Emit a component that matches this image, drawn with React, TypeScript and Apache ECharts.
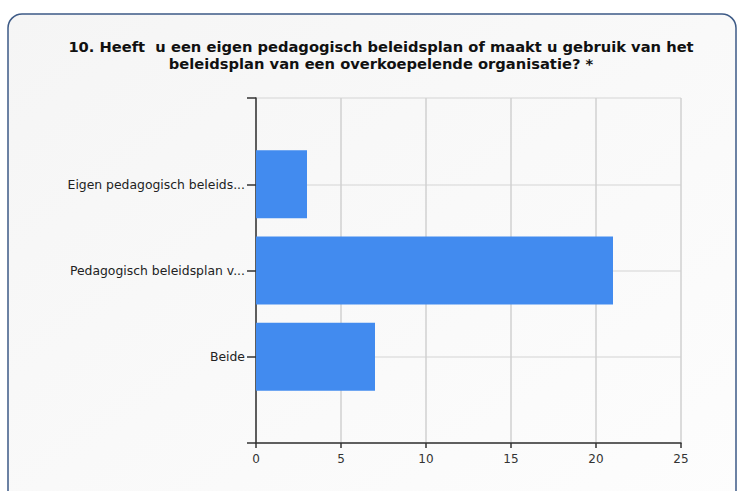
import React, { useEffect, useRef } from "react";
import * as echarts from "echarts";

const titleLines = [
  "10. Heeft  u een eigen pedagogisch beleidsplan of maakt u gebruik van het",
  "beleidsplan van een overkoepelende organisatie? *",
];
const categories = ["", "Eigen pedagogisch beleids...", "Pedagogisch beleidsplan v...", "Beide", ""];
const values: (number | null)[] = [null, 3, 21, 7, null];
const xTicks = { min: 0, max: 25, interval: 5 };

export default function App() {
  const ref = useRef<HTMLDivElement>(null);
  useEffect(() => {
    if (!ref.current) return;
    const chart = echarts.init(ref.current, null, { renderer: "svg" });
    const font = "Verdana, 'DejaVu Sans', sans-serif";
    chart.setOption({
      animation: false,
      backgroundColor: "#ffffff",
      graphic: [
        {
          type: "rect",
          z: -10,
          shape: { x: 8, y: 14, width: 728, height: 500, r: 14 },
          style: {
            fill: new echarts.graphic.LinearGradient(0, 0, 1, 1, [
              { offset: 0, color: "#f5f5f5" },
              { offset: 1, color: "#fdfdfd" },
            ]),
            stroke: "#3d5a86",
            lineWidth: 1.5,
          },
        },
      ],
      title: {
        text: titleLines.join("\n"),
        left: 376,
        textAlign: "center",
        top: 33,
        textStyle: {
          fontFamily: font,
          fontSize: 14.7,
          fontWeight: "bold",
          color: "#111",
          lineHeight: 17,
        },
      },
      grid: { left: 256, top: 98, width: 425, height: 345, containLabel: false },
      xAxis: {
        type: "value",
        min: xTicks.min,
        max: xTicks.max,
        interval: xTicks.interval,
        axisLine: { show: true, lineStyle: { color: "#333", width: 1.5 } },
        axisTick: { show: true, length: 5, lineStyle: { color: "#333", width: 1.5 } },
        axisLabel: { fontFamily: font, fontSize: 12, color: "#333", margin: 10 },
        splitLine: { show: true, lineStyle: { color: "#d0d0d0", width: 1.5 } },
      },
      yAxis: {
        type: "category",
        data: categories,
        inverse: true,
        boundaryGap: false,
        axisLine: { show: true, lineStyle: { color: "#333", width: 1.5 } },
        axisTick: { show: true, length: 9, interval: 0, lineStyle: { color: "#333", width: 1.5 } },
        axisLabel: { fontFamily: font, fontSize: 12.4, color: "#222", margin: 11, interval: 0 },
        splitLine: { show: true, interval: 0, lineStyle: { color: "#e0e0e0", width: 1.5 } },
      },
      series: [
        {
          type: "bar",
          data: values,
          barWidth: 68,
          itemStyle: { color: "#428bef" },
        },
      ],
    });
    return () => chart.dispose();
  }, []);
  return (
    <div
      ref={ref}
      style={{ position: "fixed", left: 0, top: 0, width: 737, height: 491 }}
    />
  );
}
